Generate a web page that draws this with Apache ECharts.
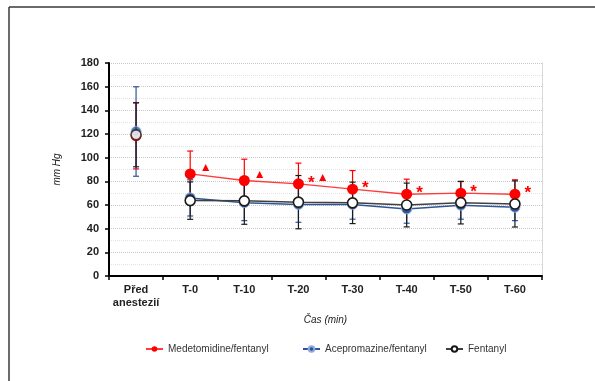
<!DOCTYPE html>
<html>
<head>
<meta charset="utf-8">
<script src="https://cdn.jsdelivr.net/npm/echarts@6/dist/echarts.min.js"></script>
<style>html,body{margin:0;padding:0;background:#fff}#c{width:595px;height:381px}</style>
</head>
<body>
<div id="c"></div>
<script>
const categories = ['Před\nanestezií', 'T-0', 'T-10', 'T-20', 'T-30', 'T-40', 'T-50', 'T-60'];
const medVals = [118.5, 86.3, 80.7, 77.9, 73.4, 69.1, 70.0, 69.1];
const medSd   = [28, 19.3, 18, 17.5, 15.7, 12.7, 9.8, 12.2];
const aceVals = [122.1, 66, 62, 60.5, 60.5, 56.7, 59.8, 58.1];
const aceSd   = [37.8, 15.3, 15.2, 15.1, 12.5, 12.1, 11.8, 11.3];
const fenVals = [119.3, 63.7, 63.5, 62.4, 61.8, 60, 62, 60.9];
const fenSd   = [27, 15.8, 19.8, 22.5, 17.5, 18.5, 18, 19.5];
const medMarks = ['', '▲', '▲', '* ▲', '*', '*', '*', '*'];
const seriesNames = ['Medetomidine/fentanyl', 'Acepromazine/fentanyl', 'Fentanyl'];
const yTicks = { min: 0, max: 180, interval: 20 };

const RED = '#FF0000', BLUE = '#2F5597', BLACK = '#1a1a1a';
const FONT = '"Liberation Sans", Arial, sans-serif';

function errSeries(vals, sd, color, z) {
  return {
    type: 'custom', z: z, silent: true,
    data: vals.map((v, i) => [i, v - sd[i], v + sd[i]]),
    encode: { x: 0, y: [1, 2] },
    renderItem: function (params, api) {
      const x = api.value(0);
      const lo = api.coord([x, api.value(1)]);
      const hi = api.coord([x, api.value(2)]);
      const w = 3;
      const st = { stroke: color, lineWidth: 1.2 };
      return { type: 'group', children: [
        { type: 'line', shape: { x1: lo[0], y1: lo[1], x2: hi[0], y2: hi[1] }, style: st },
        { type: 'line', shape: { x1: lo[0] - w, y1: lo[1], x2: lo[0] + w, y2: lo[1] }, style: st },
        { type: 'line', shape: { x1: hi[0] - w, y1: hi[1], x2: hi[0] + w, y2: hi[1] }, style: st }
      ]};
    }
  };
}
function lineData(vals) { return vals.map((v, i) => i === 0 ? '-' : v); }
function firstData(vals) { return vals.map((v, i) => i === 0 ? v : '-'); }
function markRich(s) {
  return s.split(' ').filter(t => t).map(t => t === '*' ? '{a|*}' : '{t|' + t + '}').join('{s| }');
}
function legendAt(left, name) {
  return {
    left: left, top: 339, itemWidth: 17, itemHeight: 7, itemGap: 0,
    textStyle: { fontSize: 10, color: '#333', fontFamily: FONT },
    data: [name]
  };
}

const medStyle = { symbol: 'circle', symbolSize: 11, itemStyle: { color: RED, borderColor: RED, borderWidth: 0 } };
const aceStyle = { symbol: 'circle', symbolSize: 10, itemStyle: { color: BLUE, borderColor: '#8FAADC', borderWidth: 1 } };
const fenStyle = { symbol: 'circle', symbolSize: 10, itemStyle: { color: '#ffffff', borderColor: BLACK, borderWidth: 1.6 } };

const chart = echarts.init(document.getElementById('c'));
chart.setOption({
  animation: false,
  textStyle: { fontFamily: FONT },
  grid: { left: 109, right: 53, top: 63, bottom: 105 },
  graphic: [
    { type: 'line', shape: { x1: 9, y1: 7, x2: 595, y2: 7 }, style: { stroke: '#3a3a3a', lineWidth: 1.5 }, z: 100 },
    { type: 'line', shape: { x1: 9, y1: 7, x2: 9, y2: 381 }, style: { stroke: '#3a3a3a', lineWidth: 1.5 }, z: 100 }
  ],
  legend: [legendAt(140, seriesNames[0]), legendAt(297, seriesNames[1]), legendAt(440, seriesNames[2])],
  xAxis: {
    type: 'category', data: categories, boundaryGap: true,
    name: 'Čas (min)', nameLocation: 'middle', nameGap: 39,
    nameTextStyle: { fontStyle: 'italic', fontSize: 10, color: '#222' },
    axisLine: { lineStyle: { color: '#000', width: 2 } },
    axisTick: { show: true, interval: 0, length: 4, lineStyle: { color: '#000', width: 1.5 } },
    axisLabel: { interval: 0, margin: 7, fontSize: 11, fontWeight: 'bold', color: '#222', lineHeight: 13 },
    splitLine: { show: false }
  },
  yAxis: [{
    type: 'value', min: yTicks.min, max: yTicks.max, interval: yTicks.interval,
    name: 'mm Hg', nameLocation: 'middle', nameGap: 47, nameRotate: 90,
    nameTextStyle: { fontStyle: 'italic', fontSize: 10, color: '#222' },
    axisLine: { show: true, lineStyle: { color: '#000', width: 2 } },
    axisTick: { show: true, length: 4, lineStyle: { color: '#000', width: 1.5 } },
    axisLabel: { margin: 10, fontSize: 11, fontWeight: 'bold', color: '#222' },
    splitLine: { show: true, lineStyle: { color: '#c8c8c8', type: 'dotted', width: 1 } },
    minorTick: { show: false, splitNumber: 2 },
    minorSplitLine: { show: true, lineStyle: { color: '#e2e2e2', type: 'dotted', width: 1 } }
  }, {
    type: 'value', min: yTicks.min, max: yTicks.max, interval: yTicks.interval, position: 'right',
    axisLine: { show: true, lineStyle: { color: '#d9d9d9', width: 1 } },
    axisTick: { show: false }, axisLabel: { show: false }, splitLine: { show: false }
  }],
  series: [
    errSeries(medVals, medSd, RED, 1),
    errSeries(aceVals, aceSd, BLUE, 2),
    errSeries(fenVals, fenSd, BLACK, 3),
    Object.assign({
      name: seriesNames[0], type: 'line', z: 5, data: lineData(medVals),
      lineStyle: { color: '#FF3B3B', width: 1.3 },
      label: {
        show: true, position: 'right', distance: 4, offset: [0, -4],
        formatter: p => markRich(medMarks[p.dataIndex]),
        rich: {
          a: { color: RED, fontSize: 17, fontWeight: 'bold', padding: [6, 0, 0, 0] },
          t: { color: RED, fontSize: 12, padding: [0, 0, 4, 0] },
          s: { fontSize: 8 }
        }
      }
    }, medStyle),
    Object.assign({
      name: seriesNames[1], type: 'line', z: 6, data: lineData(aceVals),
      lineStyle: { color: BLUE, width: 1.5 }
    }, aceStyle),
    Object.assign({
      name: seriesNames[2], type: 'line', z: 7, data: lineData(fenVals),
      lineStyle: { color: '#404040', width: 1.5 }
    }, fenStyle),
    Object.assign({ type: 'scatter', z: 5, data: firstData(medVals) }, medStyle),
    Object.assign({ type: 'scatter', z: 6, data: firstData(aceVals) }, aceStyle),
    Object.assign({ type: 'scatter', z: 7, data: firstData(fenVals) }, fenStyle)
  ]
});
</script>
</body>
</html>
